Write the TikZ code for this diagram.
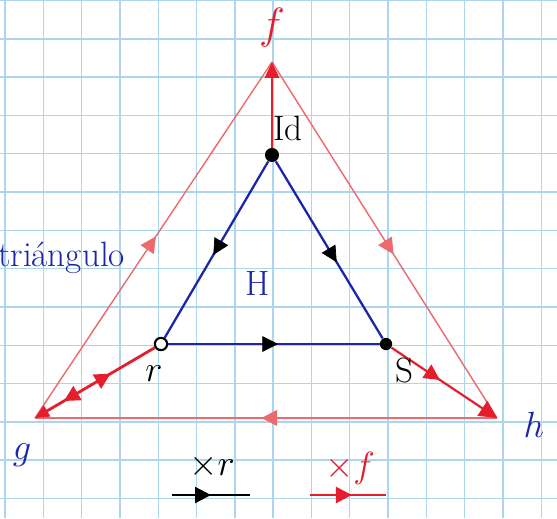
\documentclass[tikz,border=0pt]{standalone}
\usepackage{tikz}
\usetikzlibrary{positioning}
\usetikzlibrary{calc}
\usetikzlibrary{decorations.markings}
\usetikzlibrary{arrows.meta}

\definecolor{gridblue}{RGB}{172,214,236}
\definecolor{inkblue}{RGB}{28,38,168}
\definecolor{inkred}{RGB}{228,30,45}
\definecolor{palered}{RGB}{236,105,110}

\tikzset{
  fulldot/.style={circle, fill=black, inner sep=0pt, minimum size=8pt},
  opendot/.style={circle, draw=black, line width=1.2pt, fill=white, inner sep=0pt, minimum size=7pt},
  blueedge/.style={inkblue, line width=1.3pt},
  rededge/.style={inkred, line width=1.6pt},
  thinred/.style={palered, line width=0.8pt},
  midarrow/.style={postaction={decorate, decoration={markings,
      mark=at position #1 with {\arrow{Triangle[length=9pt,width=9pt]}}}}},
  backarrow/.style={postaction={decorate, decoration={markings,
      mark=at position #1 with {\arrowreversed{Triangle[length=9pt,width=9pt]}}}}},
  hand/.style={font=\fontsize{20}{22}\selectfont}
}

\begin{document}
\begin{tikzpicture}[x=0.02cm, y=-0.02cm]
    \useasboundingbox (0,0) rectangle (557,518);
    \fill[white] (0,0) rectangle (557,518);

    % grid paper
    \foreach \gx in {0,...,14}
        \draw[gridblue, line width=0.8pt] ({5+38.3*\gx},0) -- ({5+38.3*\gx},518);
    \foreach \gy in {0,...,13}
        \draw[gridblue, line width=0.8pt] (0,{0.5+38.3*\gy}) -- (557,{0.5+38.3*\gy});

    % elements of the group
    \node[fulldot] (id) at (272,155) {};
    \node[opendot] (r) at (161,344) {};
    \node[fulldot, minimum size=7pt] (s) at (386,344) {};
    \coordinate (f) at (272,62);
    \coordinate (g) at (35,418);
    \coordinate (h) at (497,418);

    % coset fH
    \draw[thinred, midarrow=0.51] (g) -- (f);
    \draw[thinred, midarrow=0.54] (f) -- (h);
    \draw[thinred, midarrow=0.51] (h) -- (g);

    % multiplication by f
    \draw[rededge, -{Triangle[length=9pt,width=8pt]}] (id) -- (f);
    \draw[rededge, backarrow=0.37, midarrow=0.76, -{Triangle[length=8pt,width=7pt]}] (r) -- (g);
    \draw[rededge, line width=1.2pt, midarrow=0.46, -{Triangle[length=10pt,width=10pt]}] (s) -- (h);

    % subgroup H
    \draw[blueedge] (id) -- (r);
    \draw[blueedge] (id) -- (s);
    \draw[blueedge] (r) -- (s);
    \path[midarrow=0.53] (id) -- (r);
    \path[midarrow=0.57] (id) -- (s);
    \path[midarrow=0.52] (r) -- (s);

    % labels
    \node[hand, inkred, font=\fontsize{24}{26}\selectfont] (flabel) at (272,28) {$f$};
    \node[hand, black] (idlabel) at (288,128) {Id};
    \node[hand, inkblue] (Hlabel) at (258,283) {H};
    \node[hand, black] (rlabel) at (154,374) {$r$};
    \node[hand, black] (slabel) at (404,370) {S};
    \node[hand, inkblue] (glabel) at (22,455) {$g$};
    \node[hand, inkblue] (hlabel) at (534,425) {$h$};
    \node[hand, inkblue, anchor=west] (tri) at (-8,258) {triángulo};

    % legend
    \node[hand, black] (leg1) at (212,466) {$\times r$};
    \coordinate (l1a) at (172,495);
    \coordinate (l1b) at (250,495);
    \draw[black, line width=1.3pt, midarrow=0.5] (l1a) -- (l1b);
    \node[hand, inkred] (leg2) at (350,468) {$\times f$};
    \coordinate (l2a) at (310,495);
    \coordinate (l2b) at (386,495);
    \draw[rededge, midarrow=0.55] (l2a) -- (l2b);
\end{tikzpicture}
\end{document}
